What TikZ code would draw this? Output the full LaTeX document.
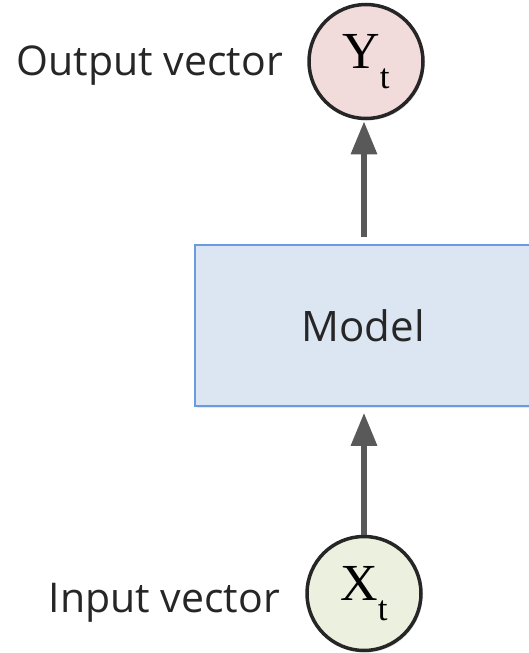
\documentclass[tikz,border=0pt]{standalone}
\usepackage{fontspec}
\setmainfont{Open Sans}
\newfontfamily\vecfont{Liberation Serif}
\usetikzlibrary{arrows.meta, shadows}

\definecolor{boxfill}{HTML}{DCE6F2}
\definecolor{boxline}{HTML}{6A9BE0}
\definecolor{outfill}{HTML}{F2DCDB}
\definecolor{infill}{HTML}{EBF1DE}
\definecolor{ringline}{HTML}{262626}
\definecolor{flowgray}{HTML}{595959}
\definecolor{textgray}{HTML}{262626}

\newcommand{\vecsym}[2]{#1\raisebox{-20pt}{\fontsize{35}{35}\selectfont #2}}

\begin{document}
\begin{tikzpicture}[x=1pt,y=-1pt,
    vec/.style={circle, draw=ringline, line width=3.5pt, minimum size=114pt, inner sep=0pt,
        font=\vecfont\fontsize{52}{52}\selectfont, text=black,
        drop shadow={shadow xshift=1.5pt, shadow yshift=-2pt, opacity=.25}},
    model/.style={rectangle, draw=boxline, fill=boxfill, line width=1.5pt,
        minimum width=336pt, minimum height=161pt, inner sep=0pt,
        font=\fontsize{42}{42}\selectfont, text=textgray,
        drop shadow={shadow xshift=1.5pt, shadow yshift=-2pt, opacity=.2}},
    flow/.style={draw=flowgray, line width=6pt,
        -{Triangle[length=33pt,width=25pt]}},
    lbl/.style={font=\fontsize{41}{41}\selectfont, text=textgray, anchor=base east, inner sep=0pt}]

    \useasboundingbox (0,0) rectangle (528,653);

    % model box
    \node[model] (Model) at (363,325.5) {Model};

    % input and output vectors
    \node[vec, fill=outfill] (Yt) at (366,61.5) {\vecsym{Y}{t}};
    \node[vec, fill=infill] (Xt) at (364,593.5) {\vecsym{X}{t}};

    \node[lbl] (OutLabel) at (283,75) {Output vector};
    \node[lbl] (InLabel) at (280,612) {Input vector};

    % arrows
    \draw[flow, shorten >=6pt] (Xt.north) -- (Xt.north |- Model.south);
    \draw[flow, shorten <=7pt, shorten >=1pt] (Xt.north |- Model.north) -- (Xt.north |- Yt.south);

\end{tikzpicture}
\end{document}
